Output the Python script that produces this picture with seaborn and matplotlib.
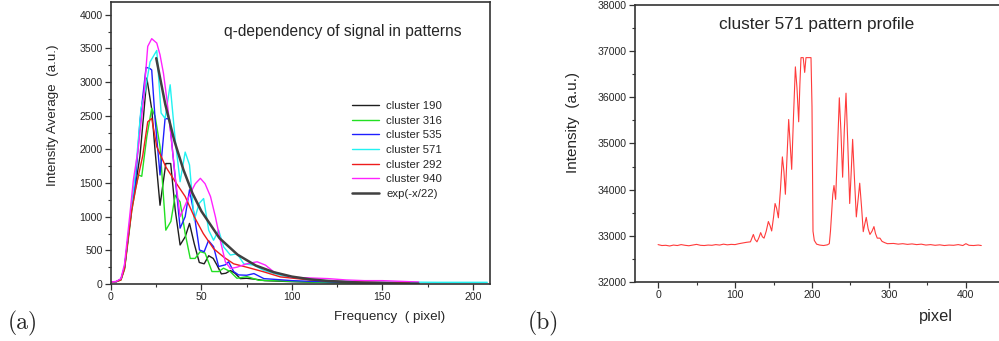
import numpy as np
import pandas as pd
import matplotlib
matplotlib.use("Agg")
import matplotlib.pyplot as plt
from matplotlib.ticker import MultipleLocator
import seaborn as sns

# ---------------- data: panel (a) ----------------
x_c190 = [0.5, 3, 5.5, 7.5, 9.5, 11.5, 13.5, 16, 18, 19.8, 22.5, 24.4, 27.1, 30.3, 33, 35.5, 38.2, 41, 43.4, 46, 48.8, 51.5, 54, 56.5, 58.6, 61, 63.5, 66, 68.5, 71.5, 75, 80, 85, 90, 100, 110, 120, 135, 150, 170]
y_c190 = [30, 35, 70, 250, 700, 1150, 1450, 1900, 2500, 3060, 2600, 1970, 1170, 1790, 1790, 1100, 580, 700, 900, 600, 320, 300, 420, 380, 280, 150, 160, 200, 160, 80, 85, 70, 50, 45, 35, 28, 22, 15, 12, 8]

x_c316 = [0.5, 3, 5.5, 7.5, 9.5, 11.5, 13.5, 15.1, 17, 19.8, 22.5, 24.4, 27.1, 30.3, 33.1, 35.5, 38.2, 41, 43.8, 46.5, 49.3, 52, 55.8, 59.5, 62.2, 65.9, 69.6, 75.2, 81.7, 90, 100, 120, 140, 160]
y_c316 = [30, 35, 60, 220, 650, 1100, 1400, 1620, 1600, 2190, 2610, 2490, 2040, 800, 930, 1320, 1220, 750, 380, 380, 480, 460, 185, 185, 235, 185, 85, 110, 55, 50, 40, 20, 12, 8]

x_c535 = [0.5, 3, 5.5, 7.5, 9.5, 11.5, 13.5, 16.1, 19.4, 21.6, 22.5, 24.4, 27.1, 29.9, 32.3, 34.9, 38.2, 41, 43.4, 46.2, 48.9, 51.5, 53.9, 56.7, 59.5, 63.2, 65, 67.8, 70.5, 75, 79, 84.5, 90, 100, 110, 130, 150, 170]
y_c535 = [30, 35, 70, 250, 700, 1150, 1500, 2440, 3220, 3200, 3180, 2440, 1620, 2460, 2450, 1740, 830, 1000, 1400, 1000, 505, 480, 645, 555, 260, 285, 330, 185, 135, 130, 155, 80, 70, 50, 40, 25, 20, 15]

x_c571 = [0.5, 3, 5.5, 7.5, 9.5, 11.5, 13.5, 16.6, 18.8, 21.6, 25.3, 27.7, 29.9, 32.7, 35.5, 38.2, 41, 43.4, 46, 48.8, 51.2, 54, 56.7, 59.5, 62.3, 66, 69.7, 73.4, 79, 84.5, 95, 110, 130, 150, 180, 208]
y_c571 = [30, 35, 70, 260, 720, 1200, 1650, 2610, 2860, 3300, 3470, 2540, 2460, 2960, 2140, 1520, 1960, 1770, 950, 1200, 1270, 800, 650, 800, 550, 430, 450, 300, 280, 200, 120, 60, 40, 30, 25, 25]

x_c292 = [0.5, 3, 5.5, 7.5, 9.5, 11.5, 13.5, 15, 17.5, 20.3, 22.5, 25.3, 30.3, 35.5, 41, 46, 51, 56.7, 62.3, 67.8, 75, 84.5, 93.7, 110, 130, 150, 165]
y_c292 = [30, 35, 60, 230, 680, 1100, 1400, 1590, 1900, 2410, 2460, 2040, 1740, 1520, 1300, 1000, 750, 525, 400, 300, 250, 180, 105, 60, 35, 25, 20]

x_c940 = [0.5, 3, 5.5, 7.5, 9.5, 10.5, 12.4, 15, 18, 20.3, 22.5, 25.3, 27.1, 29, 30.9, 33, 35.5, 38.2, 41, 43.8, 46.6, 49.4, 52, 55, 57.7, 60.4, 63.2, 66, 69.7, 75, 80.8, 85.4, 90, 100, 110, 120, 130, 140, 150, 160, 170]
y_c940 = [30, 40, 80, 300, 800, 1050, 1550, 2000, 2740, 3530, 3645, 3580, 3405, 3130, 2740, 2240, 1590, 1000, 1170, 1345, 1490, 1570, 1490, 1300, 1000, 650, 330, 230, 250, 300, 330, 280, 180, 100, 90, 80, 60, 50, 50, 40, 30]

x_exp = [25, 30, 35, 40, 45, 50, 60, 70, 80, 90, 100, 110, 120, 130, 140, 150, 160, 170]
y_exp = [3355, 2670, 2130, 1700, 1350, 1080, 680, 435, 275, 175, 110, 70, 45, 30, 18, 12, 7, 5]

series_a = [
    ("cluster 190", x_c190, y_c190, "#1e1e1e", 1.0),
    ("cluster 316", x_c316, y_c316, "#22e022", 1.0),
    ("cluster 535", x_c535, y_c535, "#1f1fff", 1.0),
    ("cluster 571", x_c571, y_c571, "#22f2f2", 1.0),
    ("cluster 292", x_c292, y_c292, "#ee1c1c", 1.0),
    ("cluster 940", x_c940, y_c940, "#ff22ff", 1.0),
    ("exp(-x/22)", x_exp, y_exp, "#404040", 1.8),
]

# ---------------- data: panel (b) ----------------
x_prof = [0, 5, 10, 15, 20, 25, 30, 35, 40, 45, 50, 55, 60, 65, 70, 75, 80, 85, 90, 95, 100, 105, 110, 115, 120,
          123.8, 126, 128.5, 131, 133.3, 135.5, 137.7, 140.5, 143.3, 145.5, 147.6, 150, 152, 154, 156.3, 159, 161.5,
          163.5, 165.4, 167.5, 169.7, 171.6, 173.6, 176, 178.4, 180.5, 182.7, 184.3, 185.7, 188.6, 190.5, 192.2,
          198.7, 200, 201.3, 203, 206, 210, 215, 220, 222.5, 224, 225.5, 227, 228.6, 230.7, 233, 235.5, 237.5,
          239.8, 242, 244.2, 246.5, 249, 251, 252.8, 255, 257.6, 260, 262, 264.5, 266.6, 268.5, 270.5, 273, 275.3,
          278, 280.5, 282.5, 284.8, 288.3, 291, 294.8, 298, 306, 312, 318, 324, 330, 336, 342, 348, 354, 360, 366,
          372, 378, 384, 390, 396, 400, 404, 410, 416, 420]
y_prof = [32810, 32790, 32795, 32780, 32800, 32790, 32810, 32795, 32785, 32800, 32815, 32795, 32790, 32800, 32795,
          32810, 32800, 32820, 32805, 32815, 32810, 32830, 32845, 32860, 32870,
          33030, 32920, 32870, 32960, 33070, 32980, 32950, 33100, 33310, 33220, 33105, 33400, 33700, 33600, 33390,
          34000, 34710, 34400, 33900, 34700, 35520, 35000, 34440, 35600, 36660, 36200, 35470, 36300, 36860, 36860,
          36540, 36860, 36860, 35800, 33100, 32900, 32820, 32800, 32790, 32805, 32830, 33100, 33490, 33900, 34090,
          33790, 34800, 35990, 35300, 34270, 35300, 36090, 35000, 33700, 34400, 35090, 34300, 33410, 33800, 34140,
          33600, 33090, 33250, 33400, 33150, 33030, 33100, 33200, 33050, 32950, 32950, 32880, 32850, 32830, 32835,
          32820, 32830, 32815, 32825, 32810, 32820, 32800, 32810, 32795, 32805, 32790, 32800, 32795, 32810, 32790,
          32830, 32795, 32790, 32800, 32790]

# ---------------- figure ----------------
sns.set_style("ticks")
plt.rcParams["font.family"] = ["Liberation Sans", "DejaVu Sans"]

W, H = 999, 341
fig = plt.figure(figsize=(W / 100, H / 100), dpi=100)

def fx(px):
    return px / W

def fy(py):
    return 1 - py / H

spine_col = "#333333"

# panel (a)
axA = fig.add_axes([fx(111), fy(284), fx(490) - fx(111), fy(2) - fy(284)])
for name, xs, ys, col, lw in series_a:
    df = pd.DataFrame({"x": xs, "y": ys})
    sns.lineplot(data=df, x="x", y="y", ax=axA, color=col, linewidth=lw, label=name)
axA.set_xlim(0, 209.5)
axA.set_ylim(0, 4190)
axA.xaxis.set_major_locator(MultipleLocator(50))
axA.xaxis.set_minor_locator(MultipleLocator(25))
axA.yaxis.set_major_locator(MultipleLocator(500))
axA.yaxis.set_minor_locator(MultipleLocator(250))
axA.set_xlabel("")
axA.set_ylabel("")
for s in axA.spines.values():
    s.set_visible(True)
    s.set_color(spine_col)
    s.set_linewidth(1.2)
axA.tick_params(which="major", length=4, width=0.9, color=spine_col, labelsize=7.6, pad=2)
axA.tick_params(which="minor", length=2.5, width=0.8, color=spine_col)
leg = axA.legend(loc="upper left", bbox_to_anchor=(fx(352), fy(101)), bbox_transform=fig.transFigure,
                 frameon=False, fontsize=8.2, handlelength=2.4, handletextpad=0.6,
                 labelspacing=0.41, borderpad=0, borderaxespad=0)

# panel (b)
axB = fig.add_axes([fx(635), fy(282), 1 - fx(635), fy(5) - fy(282)])
dfp = pd.DataFrame({"pixel": x_prof, "intensity": y_prof})
sns.lineplot(data=dfp, x="pixel", y="intensity", ax=axB, color="#ff3b3b", linewidth=0.8)
axB.set_xlim(-30, 443)
axB.set_ylim(32000, 38000)
axB.xaxis.set_major_locator(MultipleLocator(100))
axB.xaxis.set_minor_locator(MultipleLocator(50))
axB.yaxis.set_major_locator(MultipleLocator(1000))
axB.yaxis.set_minor_locator(MultipleLocator(500))
axB.set_xlabel("")
axB.set_ylabel("")
axB.spines["right"].set_visible(False)
for k in ["left", "top", "bottom"]:
    axB.spines[k].set_visible(True)
    axB.spines[k].set_color(spine_col)
    axB.spines[k].set_linewidth(1.2)
axB.tick_params(which="major", length=4, width=0.9, color=spine_col, labelsize=7.6, pad=2)
axB.tick_params(which="minor", length=2.5, width=0.8, color=spine_col)

# texts
fig.text(fx(342.5), fy(31.7), "q-dependency of signal in patterns", ha="center", va="center", fontsize=11.2)
fig.text(fx(817), fy(25), "cluster 571 pattern profile", ha="center", va="center", fontsize=12.4)
fig.text(fx(389.7), fy(317), "Frequency  ( pixel)", ha="center", va="center", fontsize=9.6)
fig.text(fx(936), fy(316.7), "pixel", ha="center", va="center", fontsize=11.8)
fig.text(fx(53), fy(115), "Intensity Average  (a.u.)", ha="center", va="center", rotation=90, fontsize=9.6)
fig.text(fx(572.7), fy(122.5), "Intensity  (a.u.)", ha="center", va="center", rotation=90, fontsize=11)
fig.text(fx(23), fy(323), "(a)", ha="center", va="center", fontsize=17, family=["cmr10", "DejaVu Serif"])
fig.text(fx(543), fy(323), "(b)", ha="center", va="center", fontsize=17, family=["cmr10", "DejaVu Serif"])

fig.savefig("out.png", dpi=100)
